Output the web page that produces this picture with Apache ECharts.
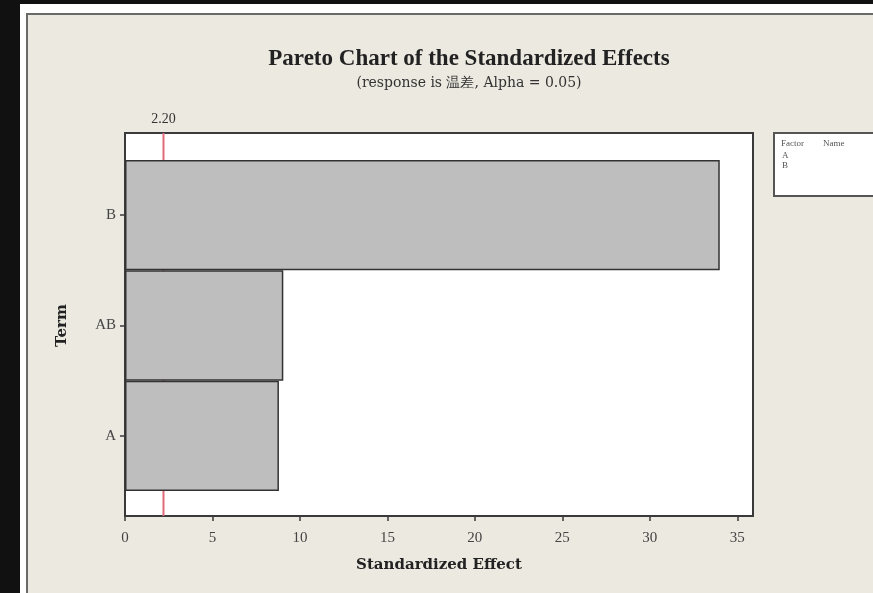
<!DOCTYPE html>
<html>
<head>
<meta charset="utf-8">
<script src="https://cdn.jsdelivr.net/npm/echarts@6/dist/echarts.min.js"></script>
<style>
  html, body { margin: 0; padding: 0; background: #111111; width: 873px; height: 593px; overflow: hidden; }
  #white { position: absolute; left: 20px; top: 4px; width: 853px; height: 589px; background: #ffffff; }
  #panel { position: absolute; left: 26px; top: 13px; width: 847px; height: 580px; background: #ECE9E0;
           border-left: 2px solid #6a6a6a; border-top: 2px solid #6a6a6a; box-sizing: border-box; }
  #chart { position: absolute; left: 0; top: 0; width: 873px; height: 593px; }
</style>
</head>
<body>
<div id="white"></div>
<div id="panel"></div>
<div id="chart"></div>
<script>
// Data
const terms = ['A', 'AB', 'B'];            // bottom to top
const effects = [8.8, 9.05, 34.0];
const xTicks = [0, 5, 10, 15, 20, 25, 30, 35];
const alphaLine = 2.20;
const legendRows = ['A', 'B'];

const serif = '"Liberation Serif", "DejaVu Serif", serif';
const wideSerif = '"DejaVu Serif", "Liberation Serif", serif';
const xMax = 35.9;

const chart = echarts.init(document.getElementById('chart'), null, { renderer: 'canvas' });

const graphicEls = [
  { type: 'rect', shape: { x: 774, y: 133, width: 120, height: 63 },
    style: { fill: '#ffffff', stroke: '#555555', lineWidth: 2 } },
  { type: 'text', x: 781, y: 139, style: { text: 'Factor', font: '9px ' + serif, fill: '#555' } },
  { type: 'text', x: 823, y: 139, style: { text: 'Name', font: '9px ' + serif, fill: '#555' } }
];
legendRows.forEach((t, i) => {
  graphicEls.push({ type: 'text', x: 782, y: 151 + i * 10, style: { text: t, font: '9px ' + serif, fill: '#555' } });
});

chart.setOption({
  backgroundColor: 'transparent',
  animation: false,
  title: {
    text: 'Pareto Chart of the Standardized Effects',
    subtext: '(response is 温差, Alpha = 0.05)',
    left: 464, top: 43, textAlign: 'center', itemGap: 5,
    textStyle: { fontFamily: serif, fontSize: 23, fontWeight: 'bold', color: '#222' },
    subtextStyle: { fontFamily: wideSerif, fontSize: 14, color: '#333' }
  },
  graphic: graphicEls,
  grid: [
    { left: 125, right: 120, top: 133, bottom: 77, show: true, backgroundColor: '#ffffff',
      borderColor: '#3a3a3a', borderWidth: 2, containLabel: false },
    { left: 125, right: 120, top: 160, bottom: 102, containLabel: false }
  ],
  xAxis: [
    { type: 'value', gridIndex: 0, min: 0, max: xMax, interval: 5,
      axisLine: { show: true, lineStyle: { color: '#3a3a3a', width: 2 } },
      axisTick: { show: true, length: 5, lineStyle: { color: '#3a3a3a', width: 1.5 },
                  customValues: xTicks },
      splitLine: { show: false },
      axisLabel: { fontFamily: serif, fontSize: 15, color: '#444', margin: 15,
                   customValues: xTicks },
      name: 'Standardized Effect', nameLocation: 'middle', nameGap: 42,
      nameTextStyle: { fontFamily: wideSerif, fontSize: 15, fontWeight: 'bold', color: '#222' } },
    { type: 'value', gridIndex: 1, min: 0, max: xMax, show: false }
  ],
  yAxis: [
    { type: 'value', gridIndex: 0, min: 0, max: 1, show: false },
    { type: 'category', gridIndex: 1, data: terms,
      axisLine: { show: false },
      axisTick: { show: true, alignWithLabel: true, length: 5, lineStyle: { color: '#3a3a3a', width: 1.5 } },
      axisLabel: { fontFamily: serif, fontSize: 15, color: '#444', margin: 9 },
      name: 'Term', nameLocation: 'middle', nameRotate: 90, nameGap: 55,
      nameTextStyle: { fontFamily: wideSerif, fontSize: 15, fontWeight: 'bold', color: '#222' } }
  ],
  series: [
    { type: 'line', xAxisIndex: 0, yAxisIndex: 0, showSymbol: true, symbolSize: 0.1,
      data: [ [alphaLine, 0],
              { value: [alphaLine, 1], label: { show: true, position: 'top', distance: 6,
                formatter: alphaLine.toFixed(2), fontFamily: serif, fontSize: 14, color: '#333' } } ],
      lineStyle: { color: '#E06A78', width: 2 }, z: 1 },
    { type: 'bar', xAxisIndex: 1, yAxisIndex: 1, data: effects, barWidth: '100%', barCategoryGap: 0,
      itemStyle: { color: '#BEBEBE', borderColor: '#333333', borderWidth: 1.5 }, z: 3 }
  ]
});
</script>
</body>
</html>
